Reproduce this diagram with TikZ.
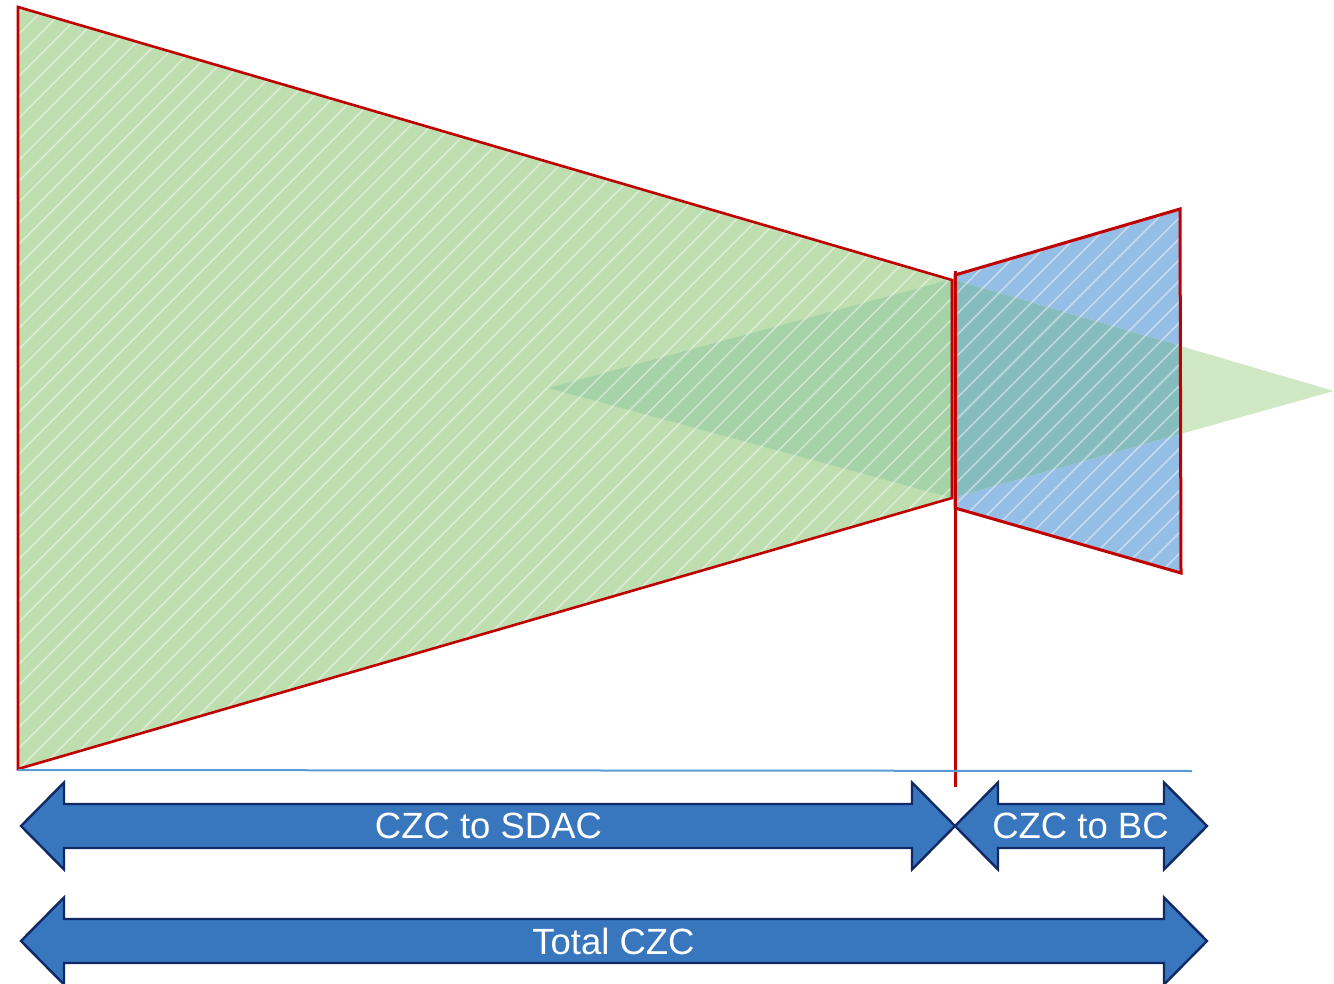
\documentclass[tikz,border=0pt]{standalone}
\usepackage{fontspec}
\setmainfont{Liberation Sans}

\definecolor{zonegreen}{RGB}{190,222,175}
\definecolor{zonegreendark}{RGB}{166,210,168}
\definecolor{wedgegreen}{RGB}{208,232,196}
\definecolor{zoneblue}{RGB}{148,190,230}
\definecolor{zoneteal}{RGB}{134,188,190}
\definecolor{edgered}{RGB}{192,0,0}
\definecolor{baseblue}{RGB}{91,155,213}
\definecolor{arrowfill}{RGB}{56,118,190}
\definecolor{arrowedge}{RGB}{16,40,100}

\tikzset{
  outline/.style={draw=edgered, line width=2.6pt, line join=miter},
  hatchline/.style={draw=white, draw opacity=0.45, line width=1.7pt},
  arrowbody/.style={fill=arrowfill, draw=arrowedge, line width=2.4pt, line join=miter},
  arrowlabel/.style={text=white, inner sep=0pt, font=\fontsize{36.5}{40}\selectfont},
}

% double-headed block arrow: left tip x, right tip x, centre y
\newcommand\spanarrow[3]{%
  \draw[arrowbody] ({#1},{#3}) -- ({#1+43},{#3-43.5}) -- ({#1+43},{#3-22})
    -- ({#2-43},{#3-22}) -- ({#2-43},{#3-43.5}) -- ({#2},{#3})
    -- ({#2-43},{#3+43.5}) -- ({#2-43},{#3+22}) -- ({#1+43},{#3+22})
    -- ({#1+43},{#3+43.5}) -- cycle;}

% diagonal white hatching over the whole page (clip before use)
\newcommand\hatching{%
  \foreach \i in {-994,-973,...,1340} {\draw[hatchline] (\i,984) -- ++(984,-984);}}

\begin{document}
\begin{tikzpicture}[x=1pt,y=-1pt]
\useasboundingbox (0,0) rectangle (1334,984);

% corner points
\coordinate (gTL) at (18,7);
\coordinate (gBL) at (18,769);
\coordinate (gTR) at (952,280);
\coordinate (gBR) at (952,498);
\coordinate (bTL) at (955,275);
\coordinate (bTR) at (1180,209);
\coordinate (bBR) at (1181,573);
\coordinate (bBL) at (955,508);
\coordinate (dL) at (548,388);
\coordinate (dT) at (952,279);
\coordinate (dR) at (1334,391);
\coordinate (dB) at (952,498);

% base fills
\fill[zonegreen] (gTL) -- (gTR) -- (gBR) -- (gBL) -- cycle;
\fill[zoneblue] (bTL) -- (bTR) -- (bBR) -- (bBL) -- cycle;

% wedge shape, tinted where it overlaps the two zones
\fill[wedgegreen] (dL) -- (dT) -- (dR) -- (dB) -- cycle;
\begin{scope}
  \clip (gTL) -- (gTR) -- (gBR) -- (gBL) -- cycle;
  \fill[zonegreendark] (dL) -- (dT) -- (dR) -- (dB) -- cycle;
\end{scope}
\begin{scope}
  \clip (bTL) -- (bTR) -- (bBR) -- (bBL) -- cycle;
  \fill[zoneteal] (dL) -- (dT) -- (dR) -- (dB) -- cycle;
\end{scope}

% hatching inside both zones
\begin{scope}
  \clip (gTL) -- (gTR) -- (gBR) -- (gBL) -- cycle;
  \hatching
\end{scope}
\begin{scope}
  \clip (bTL) -- (bTR) -- (bBR) -- (bBL) -- cycle;
  \hatching
\end{scope}

% outlines
\draw[outline] (gTL) -- (gTR) -- (gBR) -- (gBL) -- cycle;
\draw[outline, line width=3pt] (bTL) -- (bTR) -- (bBR) -- (bBL) -- cycle;

% divider and base line
\coordinate (divTop) at (955,271);
\coordinate (divBot) at (955,787);
\draw[edgered, line width=3pt] (divTop) -- (divBot);
\coordinate (baseL) at (18,770);
\coordinate (baseR) at (1192,771);
\draw[baseblue, line width=2pt] (baseL) -- (baseR);

% span arrows
\spanarrow{21}{955}{826}
\spanarrow{955}{1207}{826}
\spanarrow{21}{1207}{941}

\node[arrowlabel] (sdac) at (488.5,826) {CZC to SDAC};
\node[arrowlabel] (bc) at (1080.5,826) {CZC to BC};
\node[arrowlabel] (total) at (613.5,941) {Total CZC};
\end{tikzpicture}
\end{document}
